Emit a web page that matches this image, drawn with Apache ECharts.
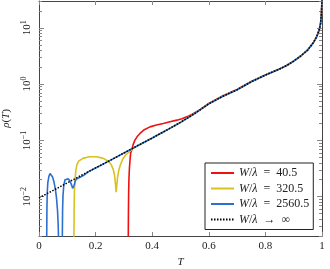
<!DOCTYPE html>
<html><head><meta charset="utf-8">
<script src="https://cdn.jsdelivr.net/npm/echarts@6/dist/echarts.min.js"></script>
<style>html,body{margin:0;padding:0;background:#fff}#c{width:330px;height:269px}</style>
</head><body><div id="c"></div>
<script>
// ---- data ----
const seriesNames = ['W/λ = 40.5', 'W/λ = 320.5', 'W/λ = 2560.5', 'W/λ → ∞'];
const xTicks = [0, 0.2, 0.4, 0.6, 0.8, 1];
const yMajorTicks = [0.01, 0.1, 1, 10];
const yMinorTicks = [0.002,0.003,0.004,0.005,0.006,0.007,0.008,0.009,
  0.02,0.03,0.04,0.05,0.06,0.07,0.08,0.09,
  0.2,0.3,0.4,0.5,0.6,0.7,0.8,0.9,
  2,3,4,5,6,7,8,9,20,30];

const tInf = [0,0.05,0.1,0.15,0.2,0.25,0.3,0.35,0.4,0.45,0.5,0.55,0.6,0.65,0.7,0.75,0.8,0.85,0.875,0.9,0.925,0.95,0.97,0.98,0.99,0.995,0.998,1.0];
const rhoInf = [0.00955,0.0129,0.0176,0.0240,0.0324,0.0437,0.0596,0.0813,0.110,0.151,0.209,0.299,0.447,0.610,0.794,1.10,1.45,1.86,2.14,2.57,3.16,4.07,5.50,6.76,9.12,12.0,17.8,31.6];

const tRed = [0.3150,0.3155,0.3160,0.3167,0.3177,0.3195,0.3216,0.324,0.3276,0.333,0.339,0.347,0.357,0.372,0.392,0.415,0.439,0.463,0.487,0.505,0.522,0.54,0.555,0.57,0.6,0.65,0.7,0.75,0.8,0.85,0.875,0.9,0.925,0.95,0.97,0.98,0.99,0.995,0.998,1.0];
const rhoRed = [0.0001,0.0020,0.0050,0.0112,0.0200,0.0320,0.0447,0.0600,0.0676,0.0851,0.101,0.117,0.133,0.155,0.174,0.188,0.200,0.214,0.229,0.243,0.262,0.288,0.320,0.355,0.455,0.620,0.805,1.11,1.45,1.86,2.14,2.57,3.16,4.07,5.50,6.76,9.12,12.0,17.8,31.6];

const tYel = [0.1230,0.1235,0.1242,0.1252,0.1272,0.1300,0.1335,0.140,0.1565,0.180,0.204,0.227,0.245,0.255,0.262,0.267,0.270,0.2725,0.2745,0.2775,0.282,0.288,0.296,0.306,0.3155,0.33,0.35,0.4,0.45,0.5,0.55,0.6,0.65,0.7,0.75,0.8,0.85,0.875,0.9,0.925,0.95,0.97,0.98,0.99,0.995,0.998,1.0];
const rhoYel = [0.0001,0.0020,0.0063,0.0126,0.0200,0.0288,0.0363,0.0427,0.0484,0.0513,0.0513,0.0479,0.0427,0.0372,0.0309,0.0240,0.0174,0.0120,0.0151,0.0219,0.0295,0.0372,0.0468,0.0550,0.0603,0.0700,0.0813,0.110,0.151,0.209,0.299,0.447,0.610,0.794,1.10,1.45,1.86,2.14,2.57,3.16,4.07,5.50,6.76,9.12,12.0,17.8,31.6];

const tBlue = [0.0270,0.0273,0.0280,0.0292,0.0312,0.035,0.039,0.043,0.048,0.053,0.058,0.062,0.0655,0.0678,0.0688,0.0692,0.0820,0.0825,0.0833,0.0848,0.0875,0.092,0.098,0.104,0.110,0.115,0.119,0.1215,0.124,0.128,0.134,0.145,0.16,0.175,0.2,0.25,0.3,0.35,0.4,0.45,0.5,0.55,0.6,0.65,0.7,0.75,0.8,0.85,0.875,0.9,0.925,0.95,0.97,0.98,0.99,0.995,0.998,1.0];
const rhoBlue = [0.0001,0.0020,0.0063,0.0120,0.0178,0.0229,0.0257,0.0251,0.0224,0.0182,0.0135,0.0093,0.0056,0.0032,0.0020,0.0001,0.0001,0.0020,0.0056,0.0105,0.0158,0.0200,0.0214,0.0207,0.0186,0.0162,0.0141,0.0132,0.0158,0.0191,0.0209,0.0221,0.0243,0.0279,0.0324,0.0437,0.0596,0.0813,0.110,0.151,0.209,0.299,0.447,0.610,0.794,1.10,1.45,1.86,2.14,2.57,3.16,4.07,5.50,6.76,9.12,12.0,17.8,31.6];

// ---- styling ----
const FONT = 'Liberation Serif';
const colors = ['#ee1111', '#d9c21f', '#2b6fcf', '#000000'];
const frameColor = '#444';
const tickColor = '#888';
const pair = (t, r) => t.map((v, i) => [v, r[i]]);
function expLabel(v) {
  const e = Math.round(Math.log10(v));
  const s = String(e).replace('-', '−');
  return '{b|10}{s|' + s + '}';
}
function yAxis(position, ticks, len, labels, line) {
  return {
    type: 'log', logBase: 10, min: 0.002, max: 30, position: position,
    axisLine: {show: line, lineStyle: {color: frameColor, width: 1}},
    axisTick: {show: true, inside: true, length: len, customValues: ticks, lineStyle: {color: tickColor, width: 1}},
    axisLabel: labels ? {
      show: true, customValues: yMajorTicks, rotate: 90, margin: 5,
      formatter: expLabel,
      rich: {
        b: {fontFamily: FONT, fontSize: 11, color: '#222'},
        s: {fontFamily: FONT, fontSize: 8, color: '#222', padding: [0, 0, 6, 0]}
      }
    } : {show: false},
    splitLine: {show: false},
    minorTick: {show: false},
    name: labels ? '{i|ρ}({i|T})' : '',
    nameLocation: 'middle', nameRotate: 90, nameGap: 22,
    nameTextStyle: {fontFamily: FONT, fontSize: 11, color: '#222', rich: {i: {fontFamily: FONT, fontStyle: 'italic', fontSize: 11, color: '#222'}}}
  };
}
function xAxis(position, labels) {
  return {
    type: 'value', min: 0, max: 1, interval: 0.2, position: position,
    axisLine: {show: true, lineStyle: {color: frameColor, width: 1}},
    axisTick: {show: true, inside: true, length: 4, lineStyle: {color: tickColor, width: 1}},
    axisLabel: labels ? {show: true, margin: 5, fontFamily: FONT, fontSize: 11, color: '#222'} : {show: false},
    splitLine: {show: false},
    name: labels ? 'T' : '', nameLocation: 'middle', nameGap: 19,
    nameTextStyle: {fontFamily: FONT, fontSize: 11, fontStyle: 'italic', color: '#222'}
  };
}
const datasets = [pair(tRed, rhoRed), pair(tYel, rhoYel), pair(tBlue, rhoBlue), pair(tInf, rhoInf)];
const series = datasets.map((d, i) => ({
  name: seriesNames[i], type: 'line', data: d, showSymbol: false, symbol: 'none',
  xAxisIndex: 0, yAxisIndex: 0, clip: true, z: 2 + i,
  lineStyle: i === 3 ? {color: colors[i], width: 1.5, type: [1.5, 1.5]} : {color: colors[i], width: 1.6},
  itemStyle: {color: colors[i]}
}));

const chart = echarts.init(document.getElementById('c'), null, {renderer: 'canvas'});
chart.setOption({
  animation: false,
  backgroundColor: '#fff',
  grid: {left: 39, right: 8, top: 1, bottom: 33, containLabel: false, outerBoundsMode: 'none'},
  xAxis: [xAxis('bottom', true), xAxis('top', false)],
  yAxis: [
    yAxis('left', yMajorTicks, 5, true, true),
    yAxis('left', yMinorTicks, 3, false, false),
    yAxis('right', yMajorTicks, 5, false, true),
    yAxis('right', yMinorTicks, 3, false, false)
  ],
  legend: {
    orient: 'vertical', left: 205, top: 163,
    backgroundColor: '#fff', borderColor: '#222', borderWidth: 1,
    padding: [4, 4, 4, 5], itemGap: 3.5, itemWidth: 23, itemHeight: 12,
    itemStyle: {opacity: 0},
    data: seriesNames,
    formatter: n => '{i|W}/{i|λ}' + n.slice(3).replace(' = ', '  =  ').replace(' → ', '  →  '),
    textStyle: {fontFamily: FONT, fontSize: 12, color: '#222', lineHeight: 12,
      rich: {i: {fontFamily: FONT, fontStyle: 'italic', fontSize: 12, color: '#222'}}}
  },
  series: series
});
</script></body></html>
